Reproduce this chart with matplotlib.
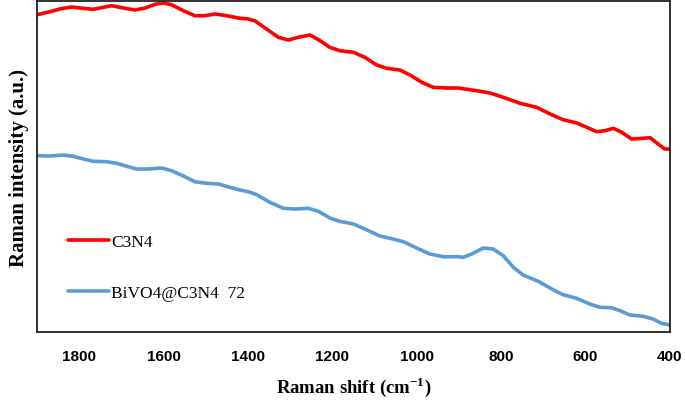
import matplotlib.pyplot as plt

# ---
# Data (Raman shift in cm-1, intensity in arbitrary units)
# ---

shift_c3n4 = [1900, 1869, 1846, 1818, 1790, 1767, 1747, 1723, 1699, 1668, 1644, 1620,
              1601, 1581, 1553, 1526, 1502, 1478, 1450, 1423, 1399, 1383, 1356, 1328,
              1304, 1281, 1253, 1229, 1206, 1182, 1150, 1123, 1095, 1071, 1040, 1016,
              988, 961, 929, 902, 858, 826, 795, 755, 716, 684, 653, 621, 597, 574,
              554, 534, 514, 491, 463, 447, 428, 412, 400]
int_c3n4 = [317.3, 320.3, 323, 325, 323.7, 322.7, 324.3, 326.3, 324.3, 322, 324, 327.7,
            329, 327.3, 321.3, 316.3, 316.3, 318, 316.3, 314, 313, 311, 303, 294.7,
            292, 294.7, 297, 291.3, 284.7, 281.3, 279.7, 274.7, 267, 263.7, 262, 257,
            249.7, 244.7, 244, 244, 241.3, 239, 234.7, 228.7, 224.7, 218, 212.3, 209,
            204.7, 200.3, 201.3, 203.7, 199.7, 193, 193.7, 194.3, 188, 183, 183]

shift_bivo4 = [1900, 1869, 1838, 1814, 1790, 1767, 1735, 1711, 1687, 1664, 1636, 1604,
               1581, 1553, 1526, 1498, 1470, 1443, 1419, 1399, 1379, 1348, 1316, 1289,
               1257, 1233, 1206, 1182, 1150, 1123, 1087, 1056, 1032, 1000, 969, 937,
               902, 890, 870, 842, 819, 795, 771, 748, 712, 677, 653, 621, 590, 566,
               538, 518, 495, 463, 440, 420, 400]
int_bivo4 = [176.3, 176, 177, 175.7, 173, 170.7, 170.3, 168.7, 165.7, 163, 163, 164,
             161.3, 156, 150.3, 148.7, 148, 144.7, 142, 140.3, 137.3, 129.7, 123.7, 123,
             123.7, 120.7, 114, 110.7, 108, 103, 96, 93, 90.3, 84, 78, 75.3,
             75.3, 74.7, 78, 84, 83, 76.3, 64.7, 57, 50.7, 42.3, 37.3, 33.7, 28, 24.7,
             24.3, 21.3, 17, 15.7, 13, 8.7, 7]

labels = ["C3N4", "BiVO4@C3N4  72"]

# ---
# Plot
# ---

fig = plt.figure(figsize=(6.85, 4.02), dpi=100)
ax = fig.add_axes([0.054, 0.1716, 0.924, 0.8234])

ax.plot(shift_c3n4, int_c3n4, color="#FF0000", lw=2.6,
        solid_joinstyle="round", solid_capstyle="round", label=labels[0])
ax.plot(shift_bivo4, int_bivo4, color="#5B9BD5", lw=2.6,
        solid_joinstyle="round", solid_capstyle="round", label=labels[1])

ax.set_xlim(1900, 400)
ax.set_ylim(0, 331)
ax.set_xticks(range(1800, 399, -200))
ax.set_yticks([])
ax.tick_params(axis="x", length=0, pad=12.5)
for lbl in ax.get_xticklabels():
    lbl.set_fontfamily("Liberation Sans")
    lbl.set_fontweight("bold")
    lbl.set_fontsize(11)

for sp in ax.spines.values():
    sp.set_linewidth(1.3)
    sp.set_color("#222222")

ax.set_xlabel("Raman shift (cm$^{\\mathregular{-1}}$)", family="Liberation Serif",
              fontweight="bold", fontsize=13.5, labelpad=7.5)
ax.set_ylabel("Raman intensity (a.u.)", family="Liberation Serif",
              fontweight="bold", fontsize=15, labelpad=6)

leg = ax.legend(loc="lower left", bbox_to_anchor=(0.025, 0.045), frameon=False,
                prop={"family": "Liberation Serif", "size": 12.5},
                handlelength=2.36, handletextpad=0.1, labelspacing=2.06)

fig.savefig("out.png", dpi=100)
